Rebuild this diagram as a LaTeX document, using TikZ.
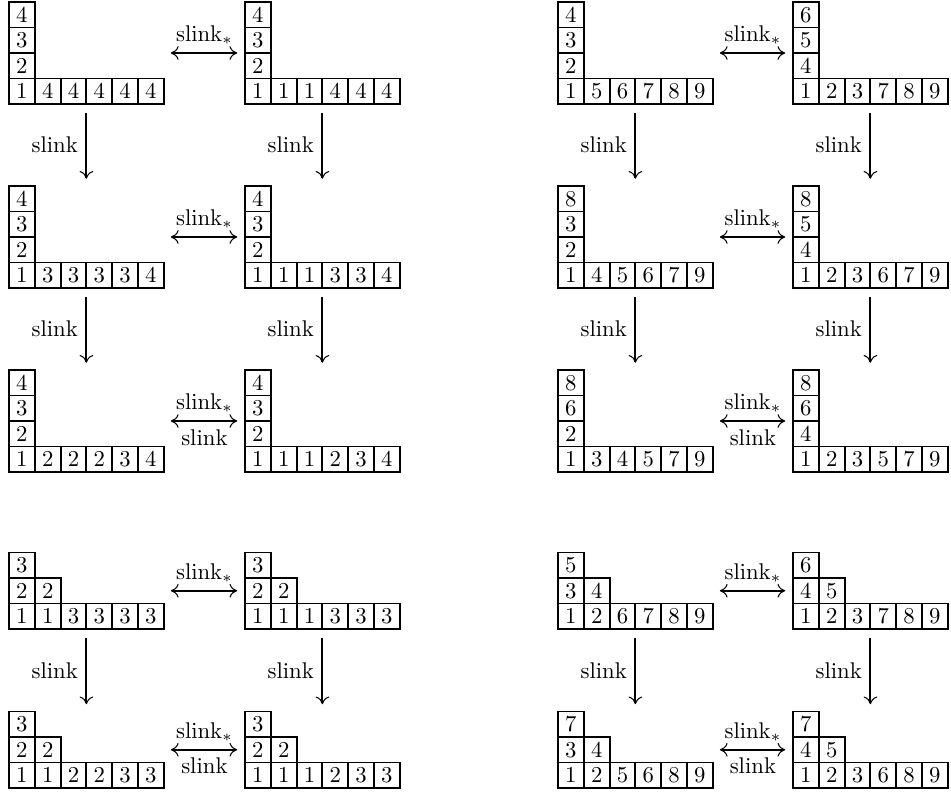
\documentclass[tikz,border=0pt]{standalone}
\usetikzlibrary{arrows.meta}
\tikzset{
  cellbox/.style={draw, line width=0.85pt, minimum width=25.8*0.44pt, minimum height=25.5*0.44pt, inner sep=0pt, outer sep=0pt},
  tabframe/.style={inner sep=0pt, outer sep=0pt, anchor=south west},
  hz/.style={line width=0.7pt, {Computer Modern Rightarrow[line width=0.45pt,length=3.4pt,width=6pt]}-{Computer Modern Rightarrow[line width=0.45pt,length=3.4pt,width=6pt]}, shorten <=3.1pt, shorten >=3.4pt},
  vt/.style={line width=0.9pt, -{Computer Modern Rightarrow[line width=0.45pt,length=3.4pt,width=6pt]}, shorten <=4pt, shorten >=3.2pt},
  lab/.style={font=\normalsize, inner sep=3.3pt}
}
% #1 name, #2 x-left, #3 y-bottom, #4 number of rows, #5 rows (bottom first)
\newcommand\tabl[5]{%
  \node[tabframe, minimum width=6*25.8*0.44pt, minimum height=#4*25.5*0.44pt] (#1) at (#2,#3) {};
  \foreach \row [count=\r] in {#5} {
    \foreach \e [count=\c] in \row {
      \node[cellbox] (#1-\r-\c) at ({#2+(\c-0.5)*25.8},{#3-(\r-0.5)*25.5}) {\e};
    }
  }%
}
\begin{document}
\begin{tikzpicture}[x=0.44pt,y=-0.44pt]
\useasboundingbox (0,0) rectangle (951,793);
% top-left panel
\tabl{A1}{9}{104}{4}{{1,4,4,4,4,4},{2},{3},{4}}
\tabl{A2}{245}{104}{4}{{1,1,1,4,4,4},{2},{3},{4}}
\tabl{A3}{9}{288}{4}{{1,3,3,3,3,4},{2},{3},{4}}
\tabl{A4}{245}{288}{4}{{1,1,1,3,3,4},{2},{3},{4}}
\tabl{A5}{9}{472}{4}{{1,2,2,2,3,4},{2},{3},{4}}
\tabl{A6}{245}{472}{4}{{1,1,1,2,3,4},{2},{3},{4}}
% top-right panel
\tabl{B1}{558}{104}{4}{{1,5,6,7,8,9},{2},{3},{4}}
\tabl{B2}{793}{104}{4}{{1,2,3,7,8,9},{4},{5},{6}}
\tabl{B3}{558}{288}{4}{{1,4,5,6,7,9},{2},{3},{8}}
\tabl{B4}{793}{288}{4}{{1,2,3,6,7,9},{4},{5},{8}}
\tabl{B5}{558}{472}{4}{{1,3,4,5,7,9},{2},{6},{8}}
\tabl{B6}{793}{472}{4}{{1,2,3,5,7,9},{4},{6},{8}}
% bottom-left panel
\tabl{C1}{9}{629}{3}{{1,1,3,3,3,3},{2,2},{3}}
\tabl{C2}{245}{629}{3}{{1,1,1,3,3,3},{2,2},{3}}
\tabl{C3}{9}{788}{3}{{1,1,2,2,3,3},{2,2},{3}}
\tabl{C4}{245}{788}{3}{{1,1,1,2,3,3},{2,2},{3}}
% bottom-right panel
\tabl{D1}{558}{629}{3}{{1,2,6,7,8,9},{3,4},{5}}
\tabl{D2}{793}{629}{3}{{1,2,3,7,8,9},{4,5},{6}}
\tabl{D3}{558}{788}{3}{{1,2,5,6,8,9},{3,4},{7}}
\tabl{D4}{793}{788}{3}{{1,2,3,6,8,9},{4,5},{7}}
% horizontal arrows
\foreach \a/\b in {A1/A2,A3/A4,B1/B2,B3/B4,C1/C2,D1/D2}{
  \draw[hz] (\a.east) -- node[lab,above] {$\mathrm{slink}_*$} (\b.west);
}
\foreach \a/\b in {A5/A6,B5/B6,C3/C4,D3/D4}{
  \draw[hz] (\a.east) -- node[lab,above] {$\mathrm{slink}_*$} node[lab,below] {slink} (\b.west);
}
% vertical arrows
\foreach \a/\b in {A1/A3,A3/A5,A2/A4,A4/A6,B1/B3,B3/B5,B2/B4,B4/B6,C1/C3,C2/C4,D1/D3,D2/D4}{
  \draw[vt] (\a.south) -- node[lab,left] {slink} (\b.north);
}
\end{tikzpicture}
\end{document}
